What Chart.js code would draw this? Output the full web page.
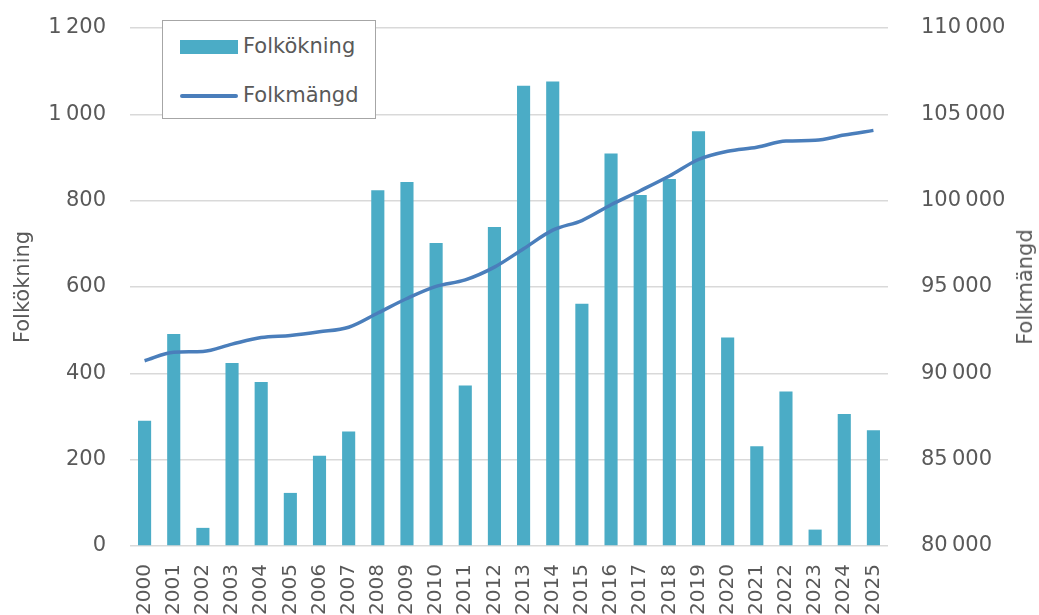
<!DOCTYPE html>
<html>
<head>
<meta charset="utf-8">
<script src="https://cdn.jsdelivr.net/npm/chart.js@4/dist/chart.umd.min.js"></script>
<style>
    html, body { margin: 0; padding: 0; background: #fff; overflow: hidden; }
    #wrap { position: relative; width: 1039px; height: 615px; }
    #legend {
        position: absolute; left: 162px; top: 20px; width: 212px; height: 97px;
        border: 1px solid #a6a6a6; background: #fff;
        font-family: "DejaVu Sans", sans-serif; font-size: 21px; color: #595959;
    }
    .item { position: absolute; left: 17px; height: 24px; line-height: 24px; white-space: nowrap; }
    .swatch { display: inline-block; width: 58px; vertical-align: middle; margin-right: 5px; }
    #rightTitle {
        position: absolute; left: 1025px; top: 287px; transform: translate(-50%, -50%) rotate(-90deg);
        font-family: "DejaVu Sans", sans-serif; font-size: 21px; color: #595959; white-space: nowrap;
    }
</style>
</head>
<body>
<div id="wrap">
    <canvas id="chart" width="1039" height="615"></canvas>
    <div id="legend"></div>
    <div id="rightTitle"></div>
</div>
<script>
// years on the x axis
const years = ["2000", "2001", "2002", "2003", "2004", "2005", "2006", "2007", "2008", "2009",
    "2010", "2011", "2012", "2013", "2014", "2015", "2016", "2017", "2018", "2019",
    "2020", "2021", "2022", "2023", "2024", "2025"];

// yearly population growth (bars, left axis)
const folkokning = [290, 491, 42, 424, 380, 123, 209, 265, 824, 843,
    702, 372, 739, 1066, 1076, 561, 909, 813, 850, 961,
    483, 231, 358, 38, 306, 268];

// population (line, right axis)
const folkmangd = [90730, 91225, 91265, 91690, 92070, 92195, 92405, 92670, 93495, 94335,
    95035, 95410, 96150, 97215, 98290, 98850, 99760, 100575, 101425, 102385,
    102865, 103095, 103455, 103495, 103800, 104070];

const BAR_COLOR = "#4bacc6";
const LINE_COLOR = "#4a7ebb";
const TEXT_COLOR = "#595959";
const FONT = "'DejaVu Sans', sans-serif";

// thin space as thousands separator, Swedish style
function fmt(v) {
    return String(v).replace(/\B(?=(\d{3})+(?!\d))/g, "\u2009");
}

/**
 * fixes the width of a y axis and drops the extra top/bottom room
 * that chart.js reserves for the tick labels, so the plot area ends where we want
 */
function fitY(width) {
    return function (scale) {
        scale.width = width;
        scale.paddingTop = 0;
        scale.paddingBottom = 0;
    };
}

let chart = new Chart(document.getElementById("chart"), {
    type: 'bar',
    data: {
        labels: years,
        datasets: [
            {
                type: 'line',
                label: 'Folkmängd',
                data: folkmangd,
                yAxisID: 'y2',
                borderColor: LINE_COLOR,
                backgroundColor: LINE_COLOR,
                borderWidth: 3.5,
                pointRadius: 0,
                cubicInterpolationMode: 'monotone',
                order: 0
            },
            {
                type: 'bar',
                label: 'Folkökning',
                data: folkokning,
                yAxisID: 'y',
                backgroundColor: BAR_COLOR,
                barPercentage: 0.45,
                categoryPercentage: 1,
                order: 1
            }
        ]
    },
    options: {
        responsive: false,
        animation: false,
        devicePixelRatio: 1,
        layout: {padding: {top: 28, right: 0, left: 0, bottom: 0}},
        plugins: {
            legend: {display: false},
            tooltip: {enabled: false}
        },
        scales: {
            x: {
                grid: {display: false},
                border: {display: false},
                ticks: {
                    color: TEXT_COLOR,
                    font: {family: FONT, size: 20},
                    minRotation: 90,
                    maxRotation: 90,
                    autoSkip: false,
                    padding: 10
                },
                afterFit: function (scale) { scale.height = 69; }
            },
            y: {
                position: 'left',
                min: 0,
                max: 1200,
                grid: {color: "#d9d9d9", lineWidth: 1.5, drawTicks: false},
                border: {display: false},
                ticks: {
                    stepSize: 200,
                    color: TEXT_COLOR,
                    font: {family: FONT, size: 21},
                    padding: 24,
                    callback: v => fmt(v)
                },
                title: {
                    display: true,
                    text: 'Folkökning',
                    color: TEXT_COLOR,
                    font: {family: FONT, size: 21},
                    padding: {top: 11, bottom: 0}
                },
                afterFit: fitY(130)
            },
            y2: {
                position: 'right',
                min: 80000,
                max: 110000,
                grid: {display: false},
                border: {display: false},
                ticks: {
                    stepSize: 5000,
                    color: TEXT_COLOR,
                    font: {family: FONT, size: 21},
                    padding: 25,
                    callback: v => fmt(v)
                },
                afterFit: fitY(151)
            }
        }
    }
});

// legend drawn as html on top of the plot area
let legendNode = document.getElementById("legend");
let order = [1, 0];
order.forEach((i, n) => {
    let ds = chart.data.datasets[i];
    let item = document.createElement("div");
    item.className = "item";
    item.style.top = (n === 0 ? 13 : 62) + "px";
    let sw = document.createElement("span");
    sw.className = "swatch";
    if (ds.type === 'bar') {
        sw.style.height = "14px";
        sw.style.background = ds.backgroundColor;
    } else {
        sw.style.height = "4px";
        sw.style.borderRadius = "2px";
        sw.style.background = ds.borderColor;
    }
    item.appendChild(sw);
    item.appendChild(document.createTextNode(ds.label));
    legendNode.appendChild(item);
});

document.getElementById("rightTitle").textContent = chart.data.datasets[0].label;
</script>
</body>
</html>
